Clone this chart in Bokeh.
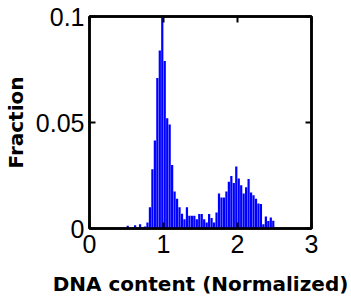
from bokeh.plotting import figure
from bokeh.models import LinearAxis, FixedTicker, NumeralTickFormatter, CustomJSTickFormatter, Range1d
from bokeh.embed import file_html
from bokeh.resources import INLINE

# Histogram data: DNA content (normalized), bins of width 1/30 starting at 0.5
bin_start = 0.5
bin_width = 1.0 / 30.0
fractions = [
    0.0013, 0.0, 0.0, 0.0015, 0.0, 0.002, 0.0, 0.001, 0.0028, 0.010,
    0.028, 0.0415, 0.071, 0.084, 0.0998, 0.079, 0.052, 0.049, 0.030, 0.0175,
    0.014, 0.010, 0.007, 0.0044, 0.010, 0.006, 0.006, 0.006, 0.0044, 0.0068,
    0.0068, 0.0044, 0.0028, 0.0068, 0.005, 0.0028, 0.0075, 0.0165, 0.0146, 0.0146,
    0.0175, 0.022, 0.0248, 0.0215, 0.0292, 0.0236, 0.0204, 0.0165, 0.0195, 0.0233,
    0.017, 0.0157, 0.014, 0.0118, 0.0116, 0.002, 0.0057, 0.0035, 0.0052, 0.0036,
]
x_ticks = [0, 1, 2, 3]
y_ticks = [0, 0.05, 0.1]
x_label = "DNA content (Normalized)"
y_label = "Fraction"

centers = [bin_start + bin_width * (i + 0.5) for i in range(len(fractions))]

p = figure(frame_width=222, frame_height=212, x_range=Range1d(0, 3), y_range=Range1d(0, 0.1),
           output_backend="svg", toolbar_location=None,
           x_axis_label=x_label, y_axis_label=y_label,
           min_border_left=82, min_border_right=39, min_border_top=16, min_border_bottom=62)
p.vbar(x=centers, top=fractions, bottom=0, width=bin_width * 0.9,
       fill_color="#0000ff", line_color=None)
p.grid.visible = False
p.outline_line_color = "black"
p.outline_line_width = 2.5
p.background_fill_color = "white"
p.border_fill_color = "white"

def style_axis(ax, ticks, fmt, show_labels):
    ax.ticker = FixedTicker(ticks=ticks)
    ax.axis_line_color = "black"
    ax.axis_line_width = 2.5
    ax.major_tick_line_color = "black"
    ax.major_tick_line_width = 2
    ax.major_tick_in = 6
    ax.major_tick_out = 0
    ax.minor_tick_line_color = None
    if show_labels:
        ax.formatter = NumeralTickFormatter(format=fmt)
        ax.major_label_text_font = "Liberation Sans"
        ax.major_label_text_font_size = "25px"
        ax.major_label_text_color = "black"
        ax.axis_label_text_font = "DejaVu Sans"
        ax.axis_label_text_font_style = "bold"
        ax.axis_label_text_color = "black"
    else:
        ax.formatter = CustomJSTickFormatter(code="return ''")
        ax.major_label_standoff = 0

style_axis(p.xaxis[0], x_ticks, "0", True)
style_axis(p.yaxis[0], y_ticks, "0.[00]", True)
p.xaxis[0].axis_label_text_font_size = "20px"
p.yaxis[0].axis_label_text_font_size = "20px"
p.xaxis[0].major_label_standoff = 6
p.xaxis[0].axis_label_standoff = 16
p.yaxis[0].major_label_standoff = 5
p.yaxis[0].axis_label_standoff = 5

right_ax = LinearAxis()
style_axis(right_ax, y_ticks, "0.[00]", False)
p.add_layout(right_ax, "right")
top_ax = LinearAxis()
style_axis(top_ax, x_ticks, "0", False)
p.add_layout(top_ax, "above")

open("out.html", "w").write(file_html(p, INLINE))
